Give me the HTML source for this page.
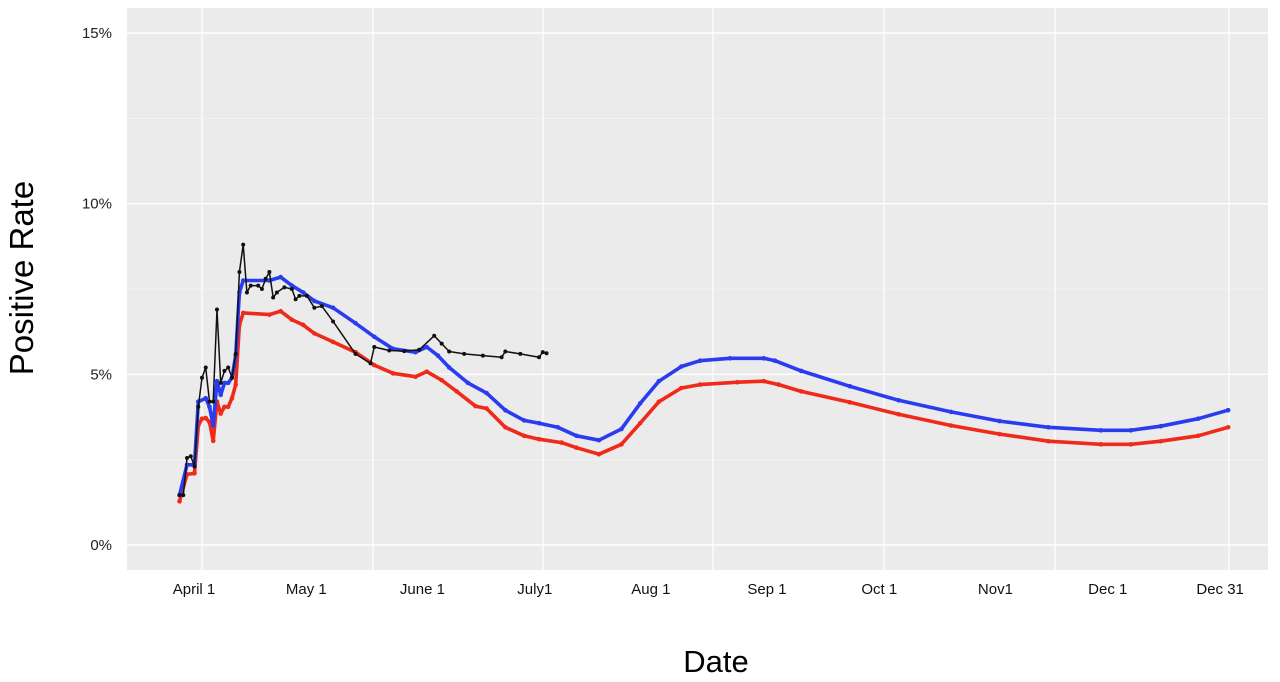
<!DOCTYPE html>
<html><head><meta charset="utf-8"><style>
body{margin:0;background:#fff;width:1280px;height:682px;overflow:hidden}
svg{display:block;font-family:"Liberation Sans",sans-serif}
</style></head><body>
<svg id="chart" width="1280" height="682">
<rect x="127" y="8" width="1141" height="562" fill="#ebebeb"/>
<g id="grid"></g><g id="yaxis"></g><g id="xaxis"></g><g id="series"></g>
<text x="716" y="672" font-size="31" text-anchor="middle" fill="#000">Date</text>
<text transform="translate(33,278) rotate(-90)" font-size="33" text-anchor="middle" fill="#000">Positive Rate</text>
</svg>
<script>
const yTicks=[0,5,10,15];
const yTickLabels=["0%","5%","10%","15%"];
const xTickDays=[0,30,61,91,122,153,183,214,244,274];
const xTickLabels=["April 1","May 1","June 1","July1","Aug 1","Sep 1","Oct 1","Nov1","Dec 1","Dec 31"];
const blueDays=[-6,-4,-2,-1,1,2,3,4,5,6,7,8,9,10,11,18,21,24,27,30,35,41,46,51,57,60,63,66,71,76,81,86,90,95,100,106,112,117,122,128,133,141,150,153,160,173,186,200,213,226,240,248,256,266,274];
const blueVals=[1.46,2.35,2.35,4.2,4.3,4.05,3.5,4.8,4.4,4.75,4.75,4.9,5.55,7.4,7.75,7.75,7.85,7.6,7.4,7.15,6.95,6.5,6.1,5.75,5.65,5.8,5.55,5.2,4.75,4.45,3.95,3.65,3.57,3.45,3.2,3.07,3.4,4.15,4.8,5.23,5.4,5.47,5.47,5.4,5.1,4.65,4.24,3.9,3.63,3.45,3.36,3.36,3.48,3.7,3.95];
const redDays=[-6,-4,-2,-1,0,1,2,3,4,5,6,7,8,9,10,11,18,21,24,27,30,35,41,46,51,57,60,64,68,73,76,81,86,90,96,100,106,112,117,122,128,133,143,150,154,160,173,186,200,213,226,240,248,256,266,274];
const redVals=[1.28,2.07,2.1,3.5,3.7,3.72,3.6,3.05,4.2,3.85,4.05,4.05,4.3,4.7,6.45,6.8,6.75,6.85,6.6,6.45,6.2,5.95,5.65,5.27,5.03,4.93,5.08,4.83,4.5,4.07,4.0,3.45,3.2,3.1,3.0,2.85,2.66,2.95,3.57,4.2,4.6,4.7,4.77,4.8,4.7,4.5,4.18,3.83,3.5,3.25,3.04,2.95,2.95,3.04,3.2,3.45];
const blackDays=[-6,-5,-4,-3,-2,-1,0,1,2,3,4,5,6,7,8,9,10,11,12,13,15,16,17,18,19,20,22,24,25,26,28,30,32,35,41,45,46,50,54,58,62,64,66,70,75,80,81,85,90,91,92];
const blackVals=[1.46,1.46,2.55,2.6,2.3,4.05,4.9,5.2,4.2,4.2,6.9,4.75,5.1,5.2,4.9,5.6,8.0,8.8,7.4,7.6,7.6,7.5,7.8,8.0,7.25,7.4,7.55,7.5,7.2,7.3,7.3,6.95,7.0,6.55,5.6,5.32,5.8,5.7,5.68,5.72,6.13,5.9,5.67,5.6,5.55,5.5,5.67,5.6,5.5,5.65,5.62];

const NS="http://www.w3.org/2000/svg";
const X0=202,PXD=3.745,Y0=545,PXV=34.13;
function xs(d){return X0+d*PXD;}
function ys(v){return Y0-v*PXV;}
function mk(tag,attrs,parent){const e=document.createElementNS(NS,tag);for(const k in attrs)e.setAttribute(k,attrs[k]);parent.appendChild(e);return e;}
const grid=document.getElementById('grid'),ya=document.getElementById('yaxis'),xa=document.getElementById('xaxis'),ser=document.getElementById('series');
for(let i=0;i<yTicks.length;i++){
  const y=ys(yTicks[i]);
  const g=mk('line',{x1:127,x2:1268,y1:y,y2:y,stroke:'#fff','stroke-width':1.4},grid);
  
  
  if(i<yTicks.length-1){const ym=ys((yTicks[i]+yTicks[i+1])/2);
    const m=mk('line',{x1:127,x2:1268,y1:ym,y2:ym,stroke:'#f5f5f5','stroke-width':0.8},grid);
    
    }
  const t=mk('text',{x:112,y:y+5,'font-size':15,'text-anchor':'end',fill:'#222'},ya);
  t.textContent=yTickLabels[i];
  
  
}
[202,373,543,713,884,1055,1229].forEach(x=>{
  const g=mk('line',{x1:x,x2:x,y1:8,y2:570,stroke:'#fff','stroke-width':1.2},grid);
  
  
});
for(let i=0;i<xTickDays.length;i++){
  const t=mk('text',{x:xs(xTickDays[i])-8,y:594,'font-size':15,'text-anchor':'middle',fill:'#111'},xa);
  t.textContent=xTickLabels[i];
  
  
}
function draw(days,vals,color,w,r,name){
  const pts=days.map((d,i)=>xs(d).toFixed(1)+','+ys(vals[i]).toFixed(1)).join(' ');
  const g=mk('g',{},ser);
  
  
  const p=mk('polyline',{points:pts,fill:'none',stroke:color,'stroke-width':w,'stroke-linejoin':'round'},g);
  
  
  days.forEach((d,i)=>{const c=mk('circle',{cx:xs(d),cy:ys(vals[i]),r:r,fill:color},g);
    
    });
}
draw(redDays,redVals,'#f02a1a',3.6,2.3,'red-series');
draw(blueDays,blueVals,'#2a3cf0',3.6,2.3,'blue-series');
draw(blackDays,blackVals,'#111',1.5,2,'black-series');
</script>
</body></html>
